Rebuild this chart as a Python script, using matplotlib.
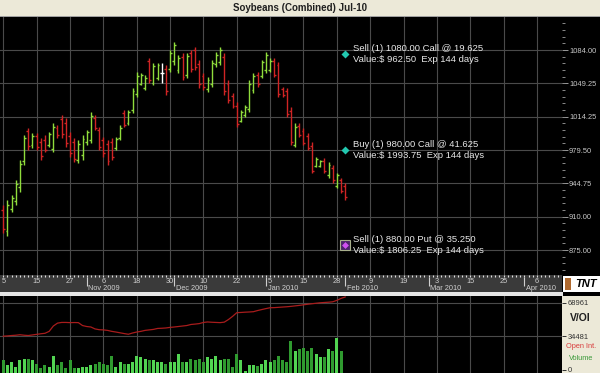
import numpy as np
import pandas as pd
import matplotlib
matplotlib.use("Agg")
import matplotlib.pyplot as plt
from matplotlib.patches import Rectangle
from matplotlib.ticker import FixedLocator, FormatStrFormatter

plt.rcParams["font.family"] = ["Liberation Sans", "DejaVu Sans"]

# --- data (Jul-10 soybeans, daily bars from 5 Oct 2009) ---
highs = [922.0, 927.25, 932.5, 948.25, 969.0, 995.25, 1002.5, 997.25, 997.25, 992.0,
         995.25, 998.25, 1007.75, 1005.5, 1016.0, 1013.0, 998.25, 992.0, 990.0, 995.25,
         1000.5, 1019.25, 1016.0, 1003.5, 993.0, 990.0, 992.0, 993.0, 1005.5, 1021.25,
         1021.25, 1044.25, 1061.0, 1060.0, 1058.0, 1075.5, 1070.5, 1070.5, 1070.5, 1068.25,
         1084.0, 1092.5, 1078.75, 1081.0, 1081.0, 1084.0, 1087.0, 1073.5, 1060.0, 1055.75,
         1073.5, 1082.0, 1087.0, 1081.0, 1052.75, 1039.0, 1029.75, 1021.25, 1026.5, 1052.75,
         1060.0, 1061.0, 1073.5, 1082.0, 1075.5, 1075.5, 1071.5, 1045.25, 1044.25, 1024.5,
         1007.75, 1007.75, 1002.5, 997.25, 988.0, 972.25, 969.0, 971.0, 967.0, 963.75,
         955.5, 950.25, 945.0]
lows = [892.75, 889.5, 914.75, 922.0, 935.5, 963.75, 979.5, 981.5, 979.5, 969.0,
        977.5, 982.5, 977.5, 992.0, 992.0, 982.5, 972.25, 967.0, 966.0, 969.0,
        984.75, 986.75, 1000.5, 979.5, 972.25, 963.75, 969.0, 979.5, 990.0, 1003.5,
        1005.5, 1018.25, 1035.0, 1047.5, 1042.25, 1049.5, 1047.5, 1052.75, 1049.5, 1037.0,
        1061.0, 1068.25, 1060.0, 1052.75, 1054.75, 1061.0, 1063.0, 1044.25, 1042.25, 1040.0,
        1045.25, 1066.25, 1068.25, 1037.0, 1028.5, 1023.5, 1003.5, 1008.75, 1014.0, 1019.25,
        1039.0, 1045.25, 1054.75, 1060.0, 1061.0, 1055.75, 1035.0, 1035.0, 1014.0, 984.75,
        982.5, 993.0, 984.75, 979.5, 955.5, 961.75, 961.75, 955.5, 950.25, 945.0,
        939.75, 934.5, 927.25]
opens = [917, 895, 918, 926, 941, 968, 999, 985, 994, 988,
         990, 985, 981, 1003, 1012, 1008, 994, 988, 969, 974,
         988, 990, 1013, 1000, 990, 986, 988, 982, 992, 1018,
         1008, 1021, 1038, 1049, 1044, 1072, 1050, 1055, 1060, 1064,
         1064, 1072, 1063, 1077, 1058, 1081, 1084, 1069, 1057, 1043,
         1048, 1069, 1071, 1077, 1049, 1036, 1026, 1010, 1016, 1022,
         1042, 1058, 1057, 1063, 1063, 1073, 1068, 1043, 1041, 1020,
         985, 1005, 999, 994, 984, 963, 963, 968, 953, 961,
         942, 948, 942]
closes = [897, 922, 929, 944, 965, 992, 984, 994, 983, 973,
          980, 996, 1004, 995, 996, 987, 976, 970, 986, 991,
          998, 1015, 1003, 983, 976, 968, 972, 991, 1003, 1006,
          1019, 1041, 1057, 1058, 1055, 1053, 1067, 1068, 1060, 1041,
          1081, 1089, 1076, 1056, 1078, 1064, 1066, 1048, 1045, 1053,
          1070, 1079, 1084, 1041, 1032, 1026, 1007, 1019, 1024, 1049,
          1057, 1048, 1071, 1079, 1073, 1058, 1038, 1037, 1017, 988,
          1004, 995, 987, 982, 958, 970, 968, 958, 964, 948,
          953, 937, 930]
volume = [13000, 8000, 11300, 6300, 13000, 14700, 14700, 13000, 9700, 4700,
          8000, 6300, 18000, 8000, 11300, 4700, 13000, 4700, 4700, 6300,
          6300, 8000, 9700, 11300, 9700, 8000, 18000, 6300, 11300, 9700,
          9700, 11300, 18000, 16300, 14700, 13000, 13000, 11300, 11300, 9700,
          11300, 11300, 19700, 11300, 11300, 14700, 13000, 14700, 11300, 16300,
          14700, 18000, 13000, 14700, 14700, 6300, 19700, 13000, 2000, 8000,
          8000, 7000, 9700, 13000, 11300, 13000, 18000, 13000, 11300, 33000,
          23000, 24700, 26300, 23000, 26300, 19700, 16300, 16300, 24700, 23000,
          36300, 23000, 0]
open_interest = [34500, 34800, 35200, 35500, 36000, 35500, 35200, 35800, 36400, 37000,
                 37500, 39500, 45000, 48000, 48700, 48700, 48500, 48600, 48500, 45500,
                 44500, 44000, 42000, 41200, 41000, 40500, 39500, 38800, 38000, 37200,
                 36500, 37800, 38800, 39500, 40500, 41000, 41500, 42500, 42700, 43000,
                 43600, 44000, 44500, 45000, 45500, 46600, 47000, 47500, 48700, 49200,
                 48900, 48700, 48500, 49000, 51700, 55000, 58800, 59000, 59300, 59500,
                 59800, 61000, 62000, 63000, 63900, 64000, 64300, 64600, 64900, 65300,
                 65800, 66300, 66900, 67500, 68000, 68500, 69000, 69300, 69600, 70000,
                 71500, 73500, 75000]
price_ticks = [875.00, 910.00, 944.75, 979.50, 1014.25, 1049.25, 1084.00]
vol_ticks = [0, 34481, 68961]
holidays = ["2009-12-25", "2010-01-01", "2010-01-18"]
leg_titles = ["Sell (1) 1080.00 Call @ 19.625",
              "Buy (1) 980.00 Call @ 41.625",
              "Sell (1) 880.00 Put @ 35.250"]
leg_values = ["Value:$ 962.50  Exp 144 days",
              "Value:$ 1993.75  Exp 144 days",
              "Value:$ 1806.25  Exp 144 days"]
leg_strikes = [1080.0, 980.0, 880.0]
leg_kinds = ["call", "call", "put"]

W, H = 600, 373
BEIGE = "#ece9d8"
GRID = "#4a4a4a"


def px_axes(fig, x, y, w, h):
    return fig.add_axes([x / W, 1 - (y + h) / H, w / W, h / H])


def main():
    dates = pd.bdate_range("2009-10-05", "2010-04-30")
    dates = dates[~dates.isin(pd.to_datetime(holidays))]
    idx = np.arange(len(highs))
    xlim = (-0.79, 134.0)
    grid_x = np.arange(0, 135, 8)

    fig = plt.figure(figsize=(W / 100, H / 100), dpi=100, facecolor="black")

    # title bar
    fig.patches.append(Rectangle((0, 1 - 16 / H), 1, 16 / H, transform=fig.transFigure,
                                 facecolor=BEIGE, edgecolor="none", zorder=-1))
    fig.patches.append(Rectangle((0, 1 - 17 / H), 1, 1 / H, transform=fig.transFigure,
                                 facecolor="#a0a0a0", edgecolor="none", zorder=-1))
    fig.text(0.5, 1 - 8 / H, "Soybeans (Combined) Jul-10", ha="center", va="center",
             fontsize=7, fontweight="bold", color="#202020")

    # price panel
    ax = px_axes(fig, 0, 17, 562, 258)
    ax.set_facecolor("black")
    ax.set_xlim(*xlim)
    ax.set_ylim(848.9, 1118.5)
    for s in ax.spines.values():
        s.set_visible(False)
    ax.set_xticks(grid_x)
    ax.tick_params(axis="x", length=0, labelbottom=False)
    ax.yaxis.tick_right()
    ax.yaxis.set_major_locator(FixedLocator(price_ticks))
    ax.yaxis.set_minor_locator(FixedLocator(1084.0 + 6.966 * np.arange(-34, 6)))
    ax.yaxis.set_major_formatter(FormatStrFormatter("%.2f"))
    ax.tick_params(axis="y", which="major", colors="#9a9a9a", labelcolor="#c8c8c8",
                   labelsize=5.4, length=4, width=0.7, pad=1)
    ax.tick_params(axis="y", which="minor", colors="#8a8a8a", length=2.5, width=0.7)
    ax.grid(True, color=GRID, lw=0.8)
    ax.set_axisbelow(True)

    colors = []
    for o, c in zip(opens, closes):
        colors.append("#8fdc3c" if c > o else ("#d02424" if c < o else "#ffffff"))
    ax.vlines(idx, lows, highs, colors=colors, lw=1.0)
    ax.hlines(opens, idx - 0.45, idx, colors=colors, lw=1.0)
    ax.hlines(closes, idx, idx + 0.45, colors=colors, lw=1.0)

    last = idx[-1]
    for title, value, strike, kind in zip(leg_titles, leg_values, leg_strikes, leg_kinds):
        if kind == "put":
            ax.plot(last, strike, marker="s", ms=7, mfc="#4a2268", mec="#a8b08c", mew=0.8)
            ax.plot(last, strike, marker="D", ms=3.5, mfc="#d050f0", mec="none")
        else:
            ax.plot(last, strike, marker="D", ms=4.5, mfc="#22c8b0", mec="none")
        ax.text(last + 1.9, strike, title + "\n" + value, ha="left", va="center",
                fontsize=6.8, color="#e8e8e8", linespacing=1.28)

    # date strip
    axd = px_axes(fig, 0, 275, 562, 17)
    axd.set_facecolor("#3a3a3a")
    axd.set_xlim(*xlim)
    axd.set_ylim(0, 1)
    axd.set_xticks([])
    axd.set_yticks([])
    for s in axd.spines.values():
        s.set_visible(False)
    n_days = int(xlim[1]) + 1
    axd.vlines(np.arange(n_days), 0.86, 0.98, colors="#e0e0e0", lw=0.8)
    for k in grid_x:
        axd.text(k, 0.62, str(dates[k].day), ha="center", va="center",
                 fontsize=5.3, color="#d0d0d0")
    for k in range(1, n_days):
        if dates[k].month != dates[k - 1].month:
            axd.vlines(k, 0.38, 0.86, colors="#d0d0d0", lw=0.8)
            axd.text(k + 0.4, 0.2, dates[k].strftime("%b %Y"), ha="left", va="center",
                     fontsize=5.3, color="#d0d0d0")

    # logo box
    fig.patches.append(Rectangle((563 / W, 1 - 292 / H), 37 / W, 16 / H,
                                 transform=fig.transFigure, facecolor="white",
                                 edgecolor="none", zorder=-1))
    fig.patches.append(Rectangle((565 / W, 1 - 290 / H), 6 / W, 12 / H,
                                 transform=fig.transFigure, facecolor="#b06a30",
                                 edgecolor="none", zorder=-1))
    fig.text(586 / W, 1 - 284 / H, "TNT", ha="center", va="center", fontsize=8,
             fontweight="bold", fontstyle="italic", color="black")

    # separator
    fig.patches.append(Rectangle((0, 1 - 296 / H), 563 / W, 4 / H, transform=fig.transFigure,
                                 facecolor="#e6e6e6", edgecolor="none", zorder=-1))

    # volume / open interest panel
    fig.patches.append(Rectangle((562 / W, 0), 38 / W, 77 / H, transform=fig.transFigure,
                                 facecolor=BEIGE, edgecolor="none", zorder=-1))
    axv = px_axes(fig, 0, 296, 562, 77)
    axv.set_facecolor("black")
    axv.set_xlim(*xlim)
    axv.set_ylim(-3500, 76000)
    for s in axv.spines.values():
        s.set_visible(False)
    axv.set_xticks(grid_x)
    axv.tick_params(axis="x", length=0, labelbottom=False)
    axv.yaxis.tick_right()
    axv.set_yticks(vol_ticks)
    axv.set_yticklabels([str(v) for v in vol_ticks])
    axv.tick_params(axis="y", colors="#303030", labelsize=5.4, length=3, width=0.7, pad=1)
    axv.grid(True, axis="x", color=GRID, lw=0.8)
    for v in vol_ticks[1:]:
        axv.axhline(v, color=GRID, lw=0.8, zorder=0)
    axv.set_axisbelow(True)
    vcol = ["#52d452" if c >= o else "#2f9a2f" for o, c in zip(opens, closes)]
    axv.bar(idx, volume, bottom=-3500, width=0.72, color=vcol, linewidth=0)
    axv.plot(idx, open_interest, color="#a81c1c", lw=0.9)

    fig.text(580 / W, 1 - 318 / H, "V/OI", ha="center", va="center", fontsize=7.5,
             fontweight="bold", color="#202020")
    fig.text(581 / W, 1 - 346 / H, "Open Int.", ha="center", va="center", fontsize=5.3,
             color="#d83c3c")
    fig.text(581 / W, 1 - 358 / H, "Volume", ha="center", va="center", fontsize=5.3,
             color="#3a9a3a")

    fig.savefig("out.png", dpi=100, facecolor="black")


if __name__ == "__main__":
    main()
